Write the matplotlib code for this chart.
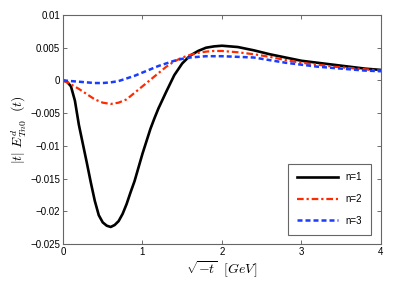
import matplotlib
matplotlib.use("Agg")
import matplotlib.pyplot as plt

plt.rcParams['font.family'] = ['Liberation Sans', 'DejaVu Sans']
plt.rcParams['mathtext.fontset'] = 'cm'

x1 = [0, 0.05, 0.1, 0.15, 0.2, 0.25, 0.3, 0.35, 0.4, 0.45, 0.5, 0.55, 0.6,
      0.65, 0.7, 0.75, 0.8, 0.85, 0.9, 0.95, 1.0, 1.05, 1.1, 1.15, 1.2, 1.3,
      1.4, 1.5, 1.6, 1.7, 1.8, 1.9, 2.0, 2.2, 2.4, 2.6, 2.8, 3.0, 3.2, 3.4,
      3.6, 3.8, 4.0]
n1 = [0, -0.0002, -0.0009, -0.0031, -0.0068, -0.0097, -0.0126, -0.0156,
      -0.0184, -0.0206, -0.0217, -0.0222, -0.0224, -0.0221, -0.0215, -0.0204,
      -0.0189, -0.0171, -0.0154, -0.0133, -0.0112, -0.0093, -0.0074, -0.0058,
      -0.0043, -0.0017, 0.0008, 0.0026, 0.0038, 0.0045, 0.0050, 0.0052,
      0.0053, 0.0051, 0.0046, 0.0040, 0.0035, 0.0030, 0.0027, 0.0024, 0.0021,
      0.0018, 0.0016]

x23 = [0, 0.1, 0.2, 0.3, 0.4, 0.5, 0.6, 0.7, 0.8, 0.9, 1.0, 1.1, 1.2, 1.3,
       1.4, 1.5, 1.6, 1.7, 1.8, 1.9, 2.0, 2.2, 2.4, 2.6, 2.8, 3.0, 3.2, 3.4,
       3.6, 3.8, 4.0]
n2 = [0, -0.0006, -0.0013, -0.0021, -0.0029, -0.0034, -0.0036, -0.0034,
      -0.0029, -0.0019, -0.0009, 0.0001, 0.0011, 0.0021, 0.0029, 0.0035,
      0.0039, 0.0042, 0.0044, 0.0045, 0.0045, 0.0043, 0.0040, 0.0036, 0.0031,
      0.0027, 0.0024, 0.0021, 0.0019, 0.0017, 0.0015]
n3 = [0, -0.0001, -0.0002, -0.0003, -0.0004, -0.0004, -0.0003, -0.0001,
      0.0003, 0.0007, 0.0012, 0.0017, 0.0022, 0.0026, 0.0030, 0.0033, 0.0035,
      0.0036, 0.0037, 0.0037, 0.0037, 0.0036, 0.0035, 0.0031, 0.0027, 0.0024,
      0.0021, 0.0019, 0.0017, 0.0015, 0.0014]

yticks = [0.01, 0.005, 0, -0.005, -0.01, -0.015, -0.02, -0.025]
ytick_labels = ['0.01', '0.005', '0', '\u22120.005', '\u22120.01', '\u22120.015',
                '\u22120.02', '\u22120.025']
xticks = [0, 1, 2, 3, 4]

fig = plt.figure(figsize=(4.09, 2.81), dpi=100)
ax = fig.add_axes([0.154, 0.1317, 0.7775, 0.815])

ax.plot(x1, n1, color='black', lw=1.9, label='n=1')
ax.plot(x23, n2, color='#ff2a00', lw=1.6, ls=(0, (3, 1.3, 1, 1.3)), label='n=2')
ax.plot(x23, n3, color='#1a3cff', lw=1.8, ls=(0, (2, 1.2)), label='n=3')

ax.set_xlim(0, 4)
ax.set_ylim(-0.025, 0.01)
ax.set_xticks(xticks)
ax.set_xticklabels([str(v) for v in xticks])
ax.set_yticks(yticks)
ax.set_yticklabels(ytick_labels)
ax.tick_params(direction='in', top=True, right=True, labelsize=7,
               length=3, width=0.6, color='#555555', pad=2)
for s in ax.spines.values():
    s.set_color('#666666')
    s.set_linewidth(0.8)

ax.set_xlabel(r'$\sqrt{-t}\ \ [GeV]$', fontsize=10, labelpad=2)
ax.set_ylabel(r'$|t|\ E^{d}_{Tn0}\ \ (t)$', fontsize=10, labelpad=2)

leg = ax.legend(loc='lower right', bbox_to_anchor=(0.984, 0.02), fontsize=7,
                handlelength=4.2, fancybox=False, framealpha=1,
                borderpad=0.9, labelspacing=1.2, handletextpad=0.8)
leg.get_frame().set_edgecolor('#666666')
leg.get_frame().set_linewidth(0.8)

fig.savefig('out.png', dpi=100)
